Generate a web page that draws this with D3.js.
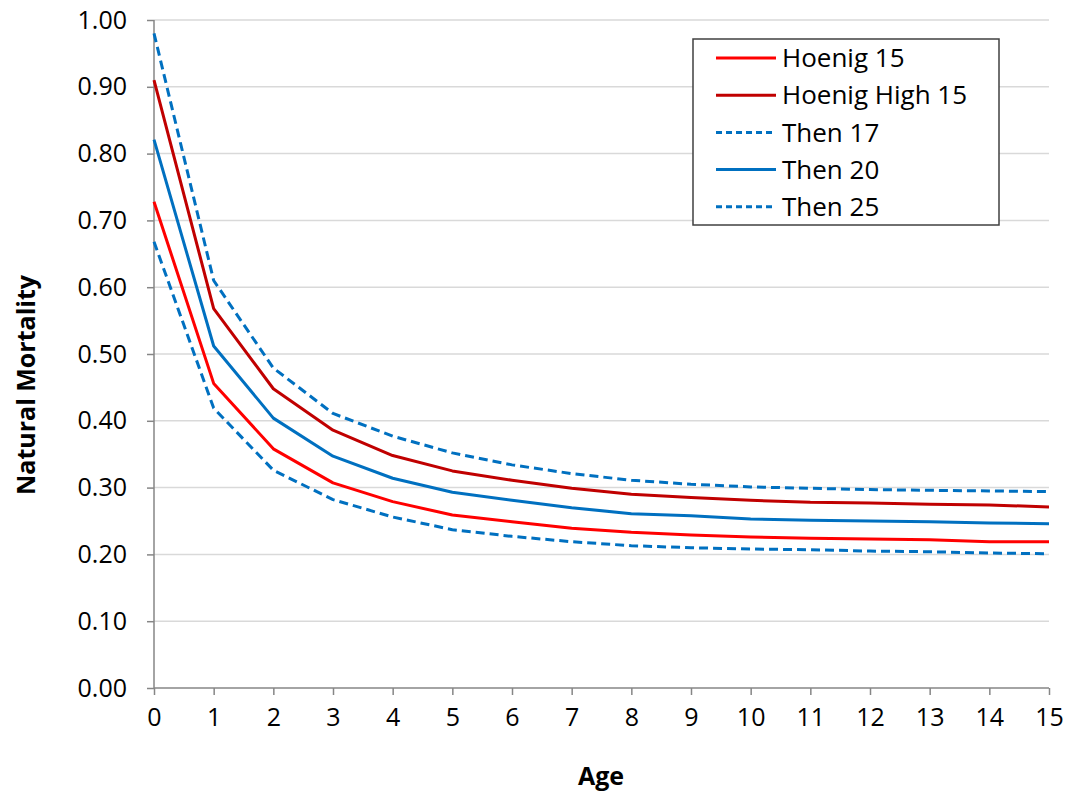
<!DOCTYPE html>
<html>
<head>
<meta charset="utf-8">
<script src="https://cdn.jsdelivr.net/npm/d3@7"></script>
<style>
  body { margin: 0; background: #fff; }
</style>
</head>
<body>
<div id="vis"></div>
<script>
/* data */
let ages = [0, 1, 2, 3, 4, 5, 6, 7, 8, 9, 10, 11, 12, 13, 14, 15];
let hoenig15     = [0.728, 0.456, 0.358, 0.307, 0.279, 0.259, 0.249, 0.239, 0.233, 0.229, 0.226, 0.224, 0.223, 0.222, 0.219, 0.219];
let hoenigHigh15 = [0.910, 0.568, 0.448, 0.386, 0.348, 0.325, 0.311, 0.299, 0.290, 0.285, 0.281, 0.278, 0.277, 0.275, 0.274, 0.271];
let then17       = [0.980, 0.610, 0.479, 0.411, 0.377, 0.352, 0.334, 0.321, 0.311, 0.305, 0.301, 0.299, 0.297, 0.296, 0.295, 0.294];
let then20       = [0.821, 0.512, 0.404, 0.347, 0.314, 0.293, 0.281, 0.270, 0.261, 0.258, 0.253, 0.251, 0.250, 0.249, 0.247, 0.246];
let then25       = [0.668, 0.419, 0.326, 0.282, 0.256, 0.237, 0.227, 0.219, 0.213, 0.210, 0.208, 0.207, 0.205, 0.204, 0.202, 0.201];
let seriesNames = ["Hoenig 15", "Hoenig High 15", "Then 17", "Then 20", "Then 25"];
let yTicks = [0, 0.1, 0.2, 0.3, 0.4, 0.5, 0.6, 0.7, 0.8, 0.9, 1.0];

/* styles per series */
let styles = [
  { stroke: "#ff0000", dash: null },
  { stroke: "#c00000", dash: null },
  { stroke: "#0070c0", dash: "9,5" },
  { stroke: "#0070c0", dash: null },
  { stroke: "#0070c0", dash: "9,5" },
];

/* geometry */
let width = 1068;
let height = 797;
let boundsX = [154, 1049];
let boundsY = [20, 688];
let font = "'Open Sans', 'Liberation Sans', sans-serif";

/* scales */
let x = d3.scaleLinear().domain([0, 15]).range(boundsX);
let y = d3.scaleLinear().domain([0, 1]).range([boundsY[1], boundsY[0]]);

let svg = d3.select("#vis").append("svg")
  .attr("width", width)
  .attr("height", height);

/* gridlines */
svg.append("g")
  .selectAll("line")
  .data(yTicks.slice(1))
  .join("line")
    .attr("x1", boundsX[0])
    .attr("x2", boundsX[1])
    .attr("y1", d => y(d))
    .attr("y2", d => y(d))
    .attr("stroke", "#d9d9d9")
    .attr("stroke-width", 1.5);

/* y axis */
let yAxis = svg.append("g")
  .attr("transform", "translate(" + boundsX[0] + ",0)")
  .call(d3.axisLeft(y).tickValues(yTicks).tickFormat(d3.format(".2f")).tickSize(7).tickPadding(20));
/* x axis */
let xAxis = svg.append("g")
  .attr("transform", "translate(0," + boundsY[1] + ")")
  .call(d3.axisBottom(x).tickValues(ages).tickFormat(d3.format("d")).tickSize(7).tickPadding(13));

[yAxis, xAxis].forEach(ax => {
  ax.select(".domain").attr("stroke", "#868686").attr("stroke-width", 1.5);
  ax.selectAll(".tick line").attr("stroke", "#868686").attr("stroke-width", 1.5);
  ax.selectAll(".tick text")
    .attr("fill", "#000")
    .attr("font-family", font)
    .attr("font-size", 25);
});
/* excel-style: no tick caps on the ends of the domain */
yAxis.select(".domain").attr("d", "M0," + boundsY[0] + "V" + boundsY[1]);
xAxis.select(".domain").attr("d", "M" + boundsX[0] + ",0H" + boundsX[1]);

/* series lines */
let allSeries = [hoenig15, hoenigHigh15, then17, then20, then25];
let line = d3.line()
  .x((d, i) => x(ages[i]))
  .y(d => y(d));

svg.append("g")
  .selectAll("path")
  .data(allSeries)
  .join("path")
    .attr("d", d => line(d))
    .attr("fill", "none")
    .attr("stroke", (d, i) => styles[i].stroke)
    .attr("stroke-width", 3)
    .attr("stroke-dasharray", (d, i) => styles[i].dash)
    .attr("stroke-linejoin", "round");

/* axis titles */
svg.append("text")
  .attr("transform", "translate(35,385) rotate(-90)")
  .attr("text-anchor", "middle")
  .attr("font-family", font)
  .attr("font-weight", "bold")
  .attr("font-size", 25)
  .text("Natural Mortality");
svg.append("text")
  .attr("x", 601)
  .attr("y", 785)
  .attr("text-anchor", "middle")
  .attr("font-family", font)
  .attr("font-weight", "bold")
  .attr("font-size", 25)
  .text("Age");

/* legend */
let legend = svg.append("g").attr("transform", "translate(693,39)");
legend.append("rect")
  .attr("width", 306)
  .attr("height", 186)
  .attr("fill", "#fff")
  .attr("stroke", "#404040")
  .attr("stroke-width", 1.5);
let items = legend.selectAll(".item")
  .data(seriesNames)
  .join("g")
    .attr("transform", (d, i) => "translate(0," + (19 + i * 37.2) + ")");
items.append("line")
  .attr("x1", 23)
  .attr("x2", 83)
  .attr("stroke", (d, i) => styles[i].stroke)
  .attr("stroke-width", 3)
  .attr("stroke-dasharray", (d, i) => styles[i].dash ? "6,4" : null);
items.append("text")
  .attr("x", 89)
  .attr("dy", "0.35em")
  .attr("font-family", font)
  .attr("font-size", 26)
  .text(d => d);
</script>
</body>
</html>
